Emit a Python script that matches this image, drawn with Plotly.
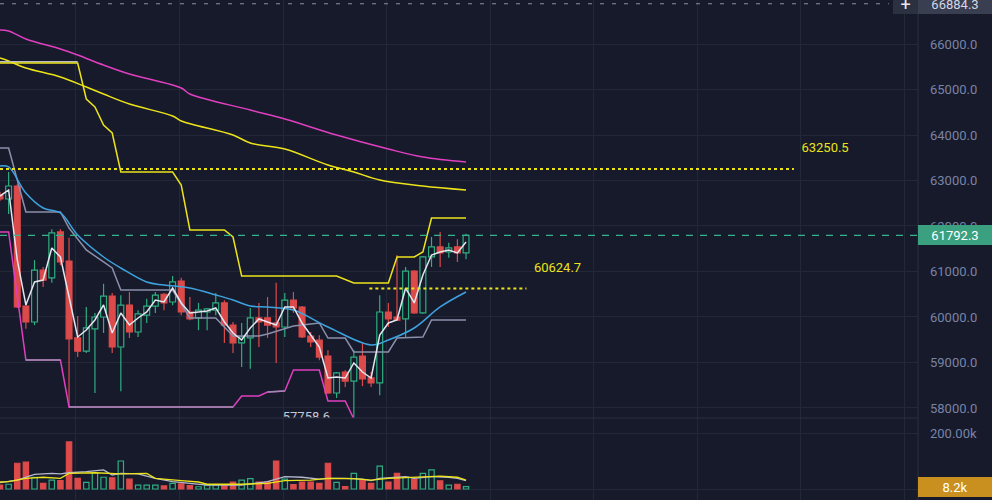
import plotly.graph_objects as go

# ---------------- data ----------------
idx = list(range(55))
opens = [62681, 62593, 62879, 60240, 59890, 61030, 60860, 61870, 61230, 59540,
         59250, 59740, 60000, 60460, 59340, 60260, 59670, 60040, 60240, 60500,
         60330, 60790, 60110, 59980, 60110, 60150, 60310, 59820, 59430, 59540,
         59980, 59980, 59870, 59780, 60370, 60220, 59580, 59490, 59140, 58330,
         58790, 58590, 59140, 58660, 58550, 60110, 60000, 59960, 61010, 60090,
         61320, 61540, 61430, 61540, 61410]
highs = [62750, 63187, 62920, 60310, 61250, 61100, 61930, 61930, 61740, 60020,
         60220, 60090, 60730, 60530, 60480, 60550, 60150, 60400, 60550, 60530,
         60900, 60860, 60440, 60310, 60200, 60530, 60370, 59890, 59870, 60200,
         60310, 60440, 60750, 60530, 60550, 60240, 59670, 59600, 59270, 58790,
         58830, 59270, 59430, 58790, 60480, 60310, 61360, 61100, 61030, 61340,
         61760, 61870, 61630, 61710, 61830]
lows = [62550, 62264, 60200, 59740, 59820, 60660, 60750, 61140, 58020, 59120,
        59210, 58330, 59650, 59210, 58370, 59540, 59560, 59870, 60090, 60150,
        60260, 60040, 59930, 59710, 59710, 60040, 59430, 59210, 58900, 58860,
        59340, 59540, 58990, 59560, 60090, 59540, 59340, 59050, 58310, 58220,
        58460, 57758.6, 58480, 58460, 58280, 59780, 59910, 59540, 60070, 60070,
        61100, 61100, 61300, 61210, 61270]
closes = [62593, 62879, 60220, 59890, 61030, 60810, 61850, 61210, 59520, 59250,
          59760, 60000, 60460, 59340, 60260, 59670, 60070, 60240, 60480, 60310,
          60770, 60110, 59960, 60150, 60180, 60310, 59820, 59430, 59560, 59980,
          59890, 59820, 59780, 60370, 60200, 59560, 59450, 59120, 58330, 58770,
          58590, 59120, 58640, 58550, 60110, 59960, 59930, 61010, 60090, 61320,
          61540, 61410, 61520, 61410, 61792.3]
volumes_k = [14, 17, 92, 96, 42, 20, 32, 30, 168, 38, 24, 58, 42, 40, 100, 35, 14, 14, 14, 11,
             20, 18, 12, 8, 14, 14, 12, 25, 32, 37, 25, 25, 100, 35, 16, 25, 25, 20, 92, 24,
             9, 56, 32, 20, 82, 25, 56, 42, 35, 56, 68, 29, 14, 17, 8.2]

# fast line (white)
fast_vals = [62659, 62791, 61253, 60264, 60769, 60813, 61516, 61319, 60440, 59560,
             59714, 59934, 60264, 59648, 60088, 59824, 59978, 60110, 60374, 60330,
             60637, 60308, 60088, 60110, 60132, 60198, 59890, 59648, 59495, 59758,
             59956, 59890, 59824, 60220, 60220, 59868, 59604, 59341, 58659, 58681,
             58659, 58989, 58791, 58659, 59604, 59868, 59934, 60637, 60308, 60923,
             61363, 61429, 61473, 61407, 61648]

# long moving average (magenta, top)
ma_long_x = [0, 1, 3, 7, 9, 12, 15, 21, 22, 29, 33, 39, 45, 49, 54]
ma_long_y = [66308, 66286, 66110, 65890, 65758, 65538, 65341, 65033, 64901, 64549,
             64352, 64000, 63692, 63516, 63407]

# mid moving average (yellow, smooth)
ma_mid_x = [0, 1, 3, 7, 10, 12, 15, 20, 21, 27, 29, 33, 38, 41, 44, 49, 54]
ma_mid_y = [65692, 65626, 65473, 65275, 65055, 64901, 64681, 64418, 64308, 64000,
            63824, 63692, 63341, 63187, 63011, 62879, 62791]

# upper channel (yellow step)
upper_x = [0, 9, 10, 11, 12, 13, 14, 20, 21, 22, 26, 27, 28, 39, 41, 45, 46, 48, 49, 50, 54]
upper_y = [65582, 65582, 64791, 64615, 64220, 64044, 63187, 63187, 62901, 61912,
           61912, 61758, 60901, 60901, 60747, 60747, 61319, 61319, 61429, 62176, 62176]
upper_gray_x = [0, 9]
upper_gray_y = [65610, 65610]

# middle channel (gray step)
mid_x = [0, 1, 3, 7, 8, 10, 12, 13, 14, 20, 22, 25, 27, 30, 31, 34, 37, 38, 40, 41, 45, 46, 49, 50, 54]
mid_y = [63714, 63714, 62308, 62308, 61956, 61473, 61209, 61077, 60593, 60593,
         59978, 59978, 59582, 59582, 59626, 59802, 59868, 59538, 59538, 59231,
         59231, 59538, 59560, 59934, 59934]

# lower channel (magenta step)
lower_x = [0, 1, 3, 7, 8, 27, 28, 30, 31, 33, 34, 37, 38, 40, 41]
lower_y = [61868, 61868, 59055, 59055, 58022, 58022, 58264, 58264, 58352, 58374,
           58835, 58835, 58154, 58154, 57758.6]
lower_flat_a_x = [3, 7]
lower_flat_a_y = [59055, 59055]
lower_flat_b_x = [8, 27]
lower_flat_b_y = [58022, 58022]
lower_flat_c_x = [31, 33]
lower_flat_c_y = [58352, 58374]

# EMA (blue)
ema_x = [0, 1, 3, 5, 7, 9, 12, 14, 17, 19, 22, 25, 27, 29, 31, 34, 38, 43, 45, 48, 51, 54]
ema_y = [63319, 63297, 62725, 62396, 62286, 61802, 61319, 61077, 60769, 60703,
         60637, 60484, 60374, 60242, 60220, 60154, 59780, 59385, 59495, 59758,
         60220, 60549]

# volume averages
vol_ma1_x = [0, 1, 3, 5, 7, 8, 11, 14, 17, 18, 21, 23, 24, 28, 31, 33, 36, 38, 41, 43, 45, 49, 51, 53, 54]
vol_ma1_y = [25, 26, 38, 42, 38, 56, 58, 54, 56, 38, 30, 25, 17, 17, 20, 30, 32, 38, 37, 32, 38, 42, 46, 42, 32]
vol_ma2_x = [0, 2, 4, 6, 7, 8, 10, 12, 13, 14, 16, 17, 18, 20, 22, 24, 28, 31, 33, 35, 37, 38, 40, 42, 43, 44, 47, 48, 50, 52, 53, 54]
vol_ma2_y = [23, 32, 52, 56, 54, 58, 62, 68, 50, 56, 54, 46, 38, 26, 20, 14, 14, 26, 44, 42, 35, 38, 38, 35, 30, 38, 44, 38, 44, 42, 38, 30]

# price levels
last_price = 61792.3
high_marker = 66884.3
level_hi = 63250.5
level_lo = 60624.7
low_marker = 57758.6
tick_prices = [58000, 59000, 60000, 61000, 62000, 63000, 64000, 65000, 66000]

# ---------------- style ----------------
BG = '#161a2b'
GRID = '#232839'
GREEN = '#2fae80'
RED = '#dc4a4a'
YELLOW = '#ece31a'
MAGENTA = '#e03fbf'
BLUE = '#3ea2de'
GRAYL = '#8b8fab'
WHITE = '#e3e5ef'
AXC = '#7a83a6'
FONT = 'Roboto'

up = [c >= o for o, c in zip(opens, closes)]

fig = go.Figure()

# candle bodies
for is_up in (True, False):
    xs = [i for i in idx if up[i] == is_up]
    base = [min(opens[i], closes[i]) for i in xs]
    hgt = [max(abs(closes[i] - opens[i]), 8) for i in xs]
    fig.add_trace(go.Bar(
        x=xs, y=hgt, base=base, width=0.68,
        marker=dict(color=BG if is_up else RED,
                    line=dict(color=GREEN if is_up else RED, width=1.2)),
        xaxis='x', yaxis='y', hoverinfo='skip'))

# wicks
for is_up in (True, False):
    wx, wy = [], []
    for i in idx:
        if up[i] != is_up:
            continue
        top = max(opens[i], closes[i])
        bot = min(opens[i], closes[i])
        wx += [i, i, None, i, i, None]
        wy += [highs[i], top, None, bot, lows[i], None]
    fig.add_trace(go.Scatter(x=wx, y=wy, mode='lines',
                             line=dict(color=GREEN if is_up else RED, width=1.2),
                             xaxis='x', yaxis='y', hoverinfo='skip'))

def line(x, y, color, width=1.5, dash=None, xa='x', ya='y', shape='linear'):
    fig.add_trace(go.Scatter(x=x, y=y, mode='lines',
                             line=dict(color=color, width=width, dash=dash, shape=shape),
                             xaxis=xa, yaxis=ya, hoverinfo='skip'))

# indicator lines
line(ma_long_x, ma_long_y, MAGENTA, shape='spline')
line(ma_mid_x, ma_mid_y, YELLOW, shape='spline')
line(upper_gray_x, upper_gray_y, '#b9bccb')
line(upper_x, upper_y, YELLOW)
line(mid_x, mid_y, GRAYL)
line(lower_x, lower_y, MAGENTA)
line(lower_flat_a_x, lower_flat_a_y, '#9a8cae')
line(lower_flat_b_x, lower_flat_b_y, '#9a8cae')
line(lower_flat_c_x, lower_flat_c_y, '#9a8cae')
line(ema_x, ema_y, BLUE, shape='spline')
line(idx, fast_vals, WHITE)

# horizontal levels
line([0, 92], [level_hi, level_hi], YELLOW, width=2, dash='dot')
line([42.8, 61], [level_lo, level_lo], YELLOW, width=2, dash='dot')
line([0, 106.4], [last_price, last_price], '#36b38a', width=1.3, dash='7px,7px')
line([0, 103], [high_marker, high_marker], '#8a8fa3', width=1, dash='4px,8px')

# level labels
fig.add_trace(go.Scatter(x=[95.6, 64.6], y=[63690, 61070], mode='text',
                         text=[f'{level_hi:.1f}', f'{level_lo:.1f}'],
                         textfont=dict(color=YELLOW, size=13, family=FONT),
                         xaxis='x', yaxis='y', hoverinfo='skip'))
fig.add_trace(go.Scatter(x=[35.5], y=[57795], mode='text', text=[f'{low_marker:.1f}'],
                         textfont=dict(color='#c5c8d6', size=13, family=FONT),
                         cliponaxis=True, xaxis='x', yaxis='y', hoverinfo='skip'))

# volume bars
for is_up in (True, False):
    xs = [i for i in idx if up[i] == is_up]
    fig.add_trace(go.Bar(
        x=xs, y=[volumes_k[i] for i in xs], width=0.62,
        marker=dict(color=BG if is_up else RED,
                    line=dict(color=GREEN if is_up else RED, width=1.2)),
        xaxis='x2', yaxis='y2', hoverinfo='skip'))
line(vol_ma2_x, vol_ma2_y, '#b6b9cc', width=1.3, xa='x2', ya='y2')
line(vol_ma1_x, vol_ma1_y, YELLOW, width=1.3, xa='x2', ya='y2')

split = 82 / 500
fig.update_layout(
    width=992, height=500,
    margin=dict(l=0, r=74, t=0, b=0),
    paper_bgcolor=BG, plot_bgcolor=BG,
    showlegend=False, barmode='overlay',
    xaxis=dict(domain=[0, 1], range=[0, 106.37], anchor='y', showticklabels=False,
               showgrid=True, gridcolor=GRID, tick0=8.8, dtick=12, zeroline=False,
               ticks=''),
    yaxis=dict(domain=[split, 1], range=[57780, 66967], side='right', anchor='x',
               tickvals=tick_prices, ticktext=[f'{p:.1f}' for p in tick_prices],
               tickfont=dict(color=AXC, size=13, family=FONT), ticks='',
               ticklabelstandoff=11, showgrid=True, gridcolor=GRID, zeroline=False),
    xaxis2=dict(domain=[0, 1], range=[0, 106.37], anchor='y2', showticklabels=False,
                showgrid=True, gridcolor=GRID, tick0=8.8, dtick=12, zeroline=False,
                ticks=''),
    yaxis2=dict(domain=[0, split], range=[-39.3, 253.6], side='right', anchor='x2',
                tickvals=[0, 200], ticktext=['', '200.00k'],
                tickfont=dict(color=AXC, size=13, family=FONT), ticks='',
                ticklabelstandoff=11, showgrid=True, gridcolor=GRID, zeroline=False),
    shapes=[
        dict(type='line', xref='paper', yref='paper', x0=0, x1=1, y0=split, y1=split,
             line=dict(color='#2a2f42', width=1)),
        dict(type='line', xref='paper', yref='paper', x0=1, x1=1, y0=0, y1=1,
             line=dict(color='#2a2f42', width=1)),
    ],
    annotations=[
        dict(x=1, xref='paper', xanchor='left', y=last_price, yref='y', yanchor='middle',
             text=f'{last_price:.1f}', showarrow=False, bgcolor='#3aa07f',
             font=dict(color='#ffffff', size=13, family=FONT),
             width=70, height=16, borderpad=1, borderwidth=1, bordercolor='#3aa07f',
             align='center'),
        dict(x=1, xref='paper', xanchor='left', y=high_marker, yref='y', yanchor='middle',
             text=f'{high_marker:.1f}', showarrow=False, bgcolor='#393e50',
             font=dict(color='#d4d7e2', size=13, family=FONT),
             width=70, height=16, borderpad=1, borderwidth=1, bordercolor='#393e50',
             align='center'),
        dict(x=1, xref='paper', xanchor='right', y=high_marker, yref='y', yanchor='middle',
             text='+', showarrow=False, bgcolor='#2c3142',
             font=dict(color='#e8eaf2', size=18, family=FONT),
             width=21, height=16, borderpad=1, borderwidth=1, bordercolor='#2c3142'),
        dict(x=1, xref='paper', xanchor='left', y=volumes_k[-1], yref='y2', yanchor='middle',
             text=f'{volumes_k[-1]:.1f}k', showarrow=False, bgcolor='#c98f1f',
             font=dict(color='#ffffff', size=13, family=FONT),
             width=70, height=16, borderpad=1, borderwidth=1, bordercolor='#c98f1f',
             align='center'),
    ],
)

fig.write_html('out.html')
